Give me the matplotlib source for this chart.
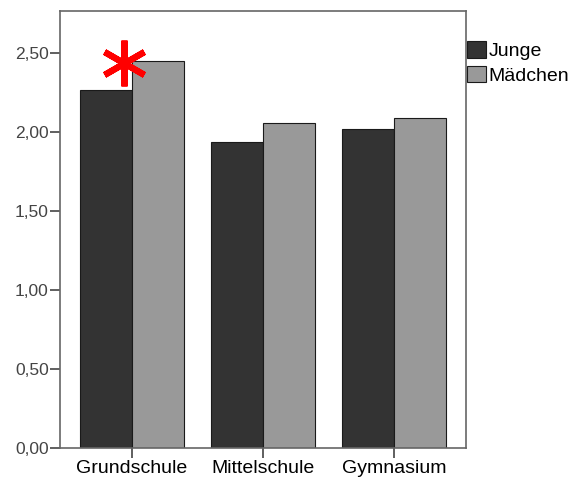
import matplotlib.pyplot as plt
import numpy as np
from matplotlib.markers import MarkerStyle
from matplotlib.ticker import FuncFormatter

plt.rcParams['font.family'] = ['Liberation Sans', 'DejaVu Sans']

schools = ["Grundschule", "Mittelschule", "Gymnasium"]
junge = [2.27, 1.94, 2.02]
maedchen = [2.45, 2.06, 2.09]
groups = ["Junge", "Mädchen"]

fig = plt.figure(figsize=(5.71, 4.8), dpi=100)
ax = fig.add_axes([0.105, 0.0667, 0.711, 0.910])

x = np.arange(len(schools))
w = 0.4
ax.bar(x - w / 2, junge, w, color="#333333", edgecolor="#1a1a1a", linewidth=0.8, label=groups[0])
ax.bar(x + w / 2, maedchen, w, color="#999999", edgecolor="#1a1a1a", linewidth=0.8, label=groups[1])

# significance marker over Grundschule
star = MarkerStyle((6, 2, 0), capstyle="round")
ax.plot([-0.06], [2.44], marker=star, markersize=33, markeredgewidth=4.5,
        color="red", linestyle="none", clip_on=False)

ax.set_xlim(-0.55, 2.55)
ax.set_ylim(0, 2.766)
ax.set_yticks(np.arange(0, 2.51, 0.5))
ax.yaxis.set_major_formatter(FuncFormatter(lambda v, p: f"{v:.2f}".replace(".", ",")))
ax.set_xticks(x)
ax.set_xticklabels(schools, fontsize=14, color="black")

for s in ax.spines.values():
    s.set_color("#666666")
    s.set_linewidth(1.2)
ax.tick_params(axis="y", length=7, width=1.2, color="#444444", labelsize=12.5,
               labelcolor="#444444", pad=1)
ax.tick_params(axis="x", length=7, width=1.2, color="#444444", pad=2)

ax.legend(loc="upper left", bbox_to_anchor=(0.818, 0.915), bbox_transform=fig.transFigure,
          frameon=False, fontsize=14, handlelength=0.95, handleheight=0.95,
          handletextpad=0.15, labelspacing=0.3, borderaxespad=0, borderpad=0)

fig.savefig("out.png", dpi=100)
